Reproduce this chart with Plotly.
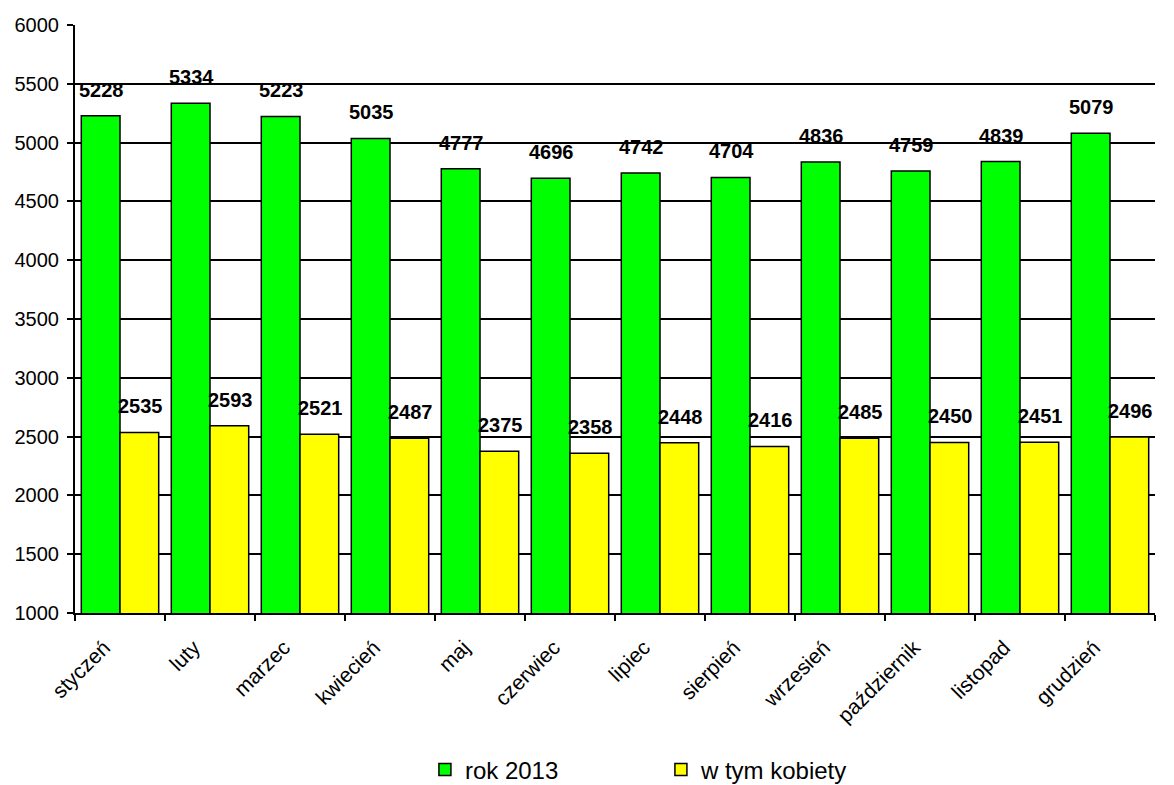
import plotly.graph_objects as go

months = ["styczeń", "luty", "marzec", "kwiecień", "maj", "czerwiec", "lipiec",
          "sierpień", "wrzesień", "październik", "listopad", "grudzień"]
total_2013 = [5228, 5334, 5223, 5035, 4777, 4696, 4742, 4704, 4836, 4759, 4839, 5079]
women = [2535, 2593, 2521, 2487, 2375, 2358, 2448, 2416, 2485, 2450, 2451, 2496]

FONT = "Liberation Sans, Arial, sans-serif"
LBL = dict(family=FONT, size=20, color="black", weight="bold")

fig = go.Figure()
fig.add_trace(go.Bar(
    x=months, y=total_2013, name="rok 2013",
    marker=dict(color="#00FF00", line=dict(color="black", width=1.5)),
))
fig.add_trace(go.Bar(
    x=months, y=women, name="w tym kobiety",
    marker=dict(color="#FFFF00", line=dict(color="black", width=1.5)),
))

# value labels above each bar (offset left/right to sit over each bar of the group)
for series, shift in ((total_2013, -19), (women, 20)):
    for m, v in zip(months, series):
        fig.add_annotation(x=m, y=v, text=str(v), showarrow=False,
                           xref="x", yref="y", xanchor="center", yanchor="bottom",
                           xshift=shift, yshift=13, font=LBL)

fig.update_layout(
    width=1166, height=777,
    margin=dict(l=67, r=19, t=17, b=172, autoexpand=False),
    paper_bgcolor="white", plot_bgcolor="white",
    barmode="group", bargap=0.14, bargroupgap=0,
    font=dict(family=FONT, size=20, color="black"),
    showlegend=True,
    legend=dict(orientation="h", x=0.324, xanchor="left", y=-0.267, yanchor="middle",
                font=dict(family=FONT, size=24, color="black"),
                entrywidth=191, entrywidthmode="pixels", itemwidth=30),
    xaxis=dict(showline=True, linecolor="black", linewidth=2,
               ticks="outside", tickson="boundaries", ticklen=6, tickwidth=2, tickcolor="black",
               tickangle=-45, ticklabelstandoff=12, ticklabelshift=-16,
               tickfont=dict(family=FONT, size=21, color="black")),
    yaxis=dict(range=[1000, 6000], dtick=500, showline=True, linecolor="black", linewidth=2,
               ticks="outside", ticklen=6, tickwidth=2, tickcolor="black",
               showgrid=True, gridcolor="black", gridwidth=2, zeroline=False,
               ticklabelstandoff=4,
               tickfont=dict(family=FONT, size=20, color="black")),
)

fig.write_html("out.html")
